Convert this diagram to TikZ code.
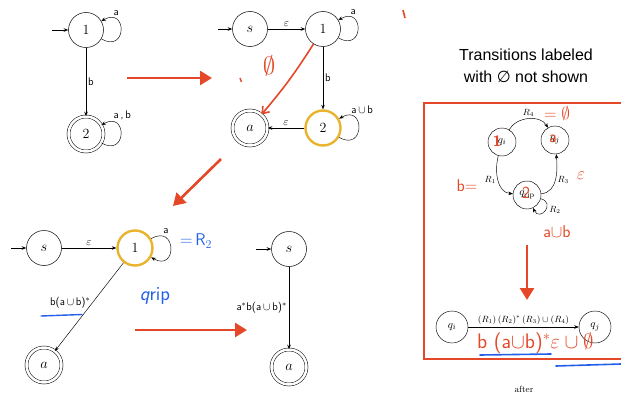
\documentclass[tikz,border=0pt]{standalone}
\usepackage{fontspec}
\usepackage{amssymb}
\usetikzlibrary{arrows.meta, positioning, calc}
\newfontfamily\titlefont{Liberation Sans}
\newfontfamily\symfont{DejaVu Sans}
\definecolor{markred}{RGB}{228, 72, 40}
\definecolor{ringyellow}{RGB}{232, 180, 45}
\definecolor{penblue}{RGB}{35, 95, 235}

\tikzset{
  state/.style={circle, draw, line width=0.5pt, minimum size=35pt, inner sep=0pt, font=\fontsize{14}{16}\selectfont},
  accept/.style={state, double, double distance=2.5pt},
  ripstate/.style={state, draw=ringyellow, line width=2.4pt},
  smallstate/.style={circle, draw, line width=0.45pt, minimum size=28pt, inner sep=0pt, font=\fontsize{11}{12}\selectfont},
  edge/.style={-{Stealth[length=4.5pt, width=3.5pt]}, line width=0.45pt},
  lab/.style={font=\fontsize{11}{12}\sffamily, inner sep=2pt},
  rlab/.style={font=\fontsize{9}{10}\selectfont, inner sep=2pt},
  elab/.style={font=\fontsize{11}{12}\selectfont, inner sep=2pt},
  bigarrow/.style={markred, line width=2.6pt, -{Triangle[length=12pt, width=14pt]}},
  redline/.style={markred, line width=1.6pt, -{Straight Barb[length=6pt, width=9pt]}},
  redpen/.style={markred, font=\fontsize{17}{19}\sffamily, inner sep=0pt},
  bluepen/.style={penblue, font=\fontsize{17}{19}\sffamily, inner sep=0pt},
}

\begin{document}
\begin{tikzpicture}[x=1pt, y=1pt, font=\small]
  \useasboundingbox (0,0) rectangle (621,-396);

  \node[state] (aone) at (86,-30) {1};
  \node[accept] (atwo) at (86,-134) {2};
  \coordinate (ainit) at (52,-30);
  \draw[edge] (ainit) -- (aone);
  \draw[edge] (aone) -- node[lab, right] {b} (atwo);
  \draw[edge] (aone) to[loop, out=-30, in=30, min distance=30pt] node[lab, pos=0.85, above right=0pt] {a} (aone);
  \draw[edge] (atwo) to[loop, out=-30, in=30, min distance=30pt] node[lab, pos=0.85, above right=0pt] {a\,,\,b} (atwo);

  \coordinate (rAstart) at (127,-78);
  \coordinate (rAend) at (212,-78);
  \draw[bigarrow] (rAstart) -- (rAend);

  \node[state] (bs) at (250,-29) {$s$};
  \node[state] (bone) at (323,-29) {1};
  \node[ripstate] (btwo) at (323,-128) {2};
  \node[accept] (bacc) at (250,-128) {$a$};
  \coordinate (binit) at (218,-29);
  \draw[edge] (binit) -- (bs);
  \draw[edge] (bs) -- node[elab, above] {$\varepsilon$} (bone);
  \draw[edge] (bone) -- node[lab, right] {b} (btwo);
  \draw[edge] (btwo) -- node[elab, above] {$\varepsilon$} (bacc);
  \draw[edge] (bone) to[loop, out=-30, in=30, min distance=30pt] node[lab, pos=0.85, above right=0pt] {a} (bone);
  \draw[edge] (btwo) to[loop, out=-30, in=30, min distance=30pt] node[lab, pos=0.85, above right=0pt] {a\,$\cup$\,b} (btwo);
  \draw[redline] (bone) to[bend left=4] (bacc);
  \node[markred, font=\fontsize{24}{24}\selectfont] (bnull) at (269,-66) {$\emptyset$};
  \draw[markred, line width=1.4pt] (240,-78) -- (241.5,-82);
  \draw[markred, line width=1.6pt] (403,-10) -- (405,-18);

  \coordinate (rBstart) at (221,-159);
  \coordinate (rBend) at (173,-206);
  \draw[bigarrow] (rBstart) -- (rBend);

  \node[state] (cs) at (44,-248) {$s$};
  \node[ripstate] (cone) at (135,-248) {1};
  \node[accept] (cacc) at (44,-365) {$a$};
  \coordinate (cinit) at (11,-248);
  \draw[edge] (cinit) -- (cs);
  \draw[edge] (cs) -- node[elab, above] {$\varepsilon$} (cone);
  \draw[edge] (cone) to[loop, out=30, in=-30, min distance=30pt] node[lab, pos=0.15, above right=0pt] {a} (cone);
  \draw[edge] (cone) -- node[lab, left, pos=0.45] {b(a\,$\cup$\,b)$^*$} (cacc);
  \node[bluepen] (crtwo) at (196,-241) {$=$\,R$_2$};
  \node[bluepen, font=\fontsize{20}{20}\sffamily] (crip) at (155,-296) {\itshape q\upshape rip};
  \draw[penblue, line width=1.4pt, line cap=round] (41,-316) -- (82,-314.5);

  \coordinate (rCstart) at (135,-330);
  \coordinate (rCend) at (247,-330);
  \draw[bigarrow] (rCstart) -- (rCend);

  \node[state] (ds) at (289,-249) {$s$};
  \node[accept] (dacc) at (289,-367) {$a$};
  \coordinate (dinit) at (256,-249);
  \draw[edge] (dinit) -- (ds);
  \draw[edge] (ds) -- node[lab, left] {a$^*$b(a\,$\cup$\,b)$^*$} (dacc);

  \node[font=\fontsize{16}{22}\titlefont, align=center] (title) at (526,-66) {Transitions labeled\\with {\symfont ∅} not shown};
  \draw[markred, line width=2.4pt] (622,-103) -- (424,-103) -- (424,-359) -- (622,-359);

  \node[smallstate] (qi) at (502,-142) {$q_i$};
  \node[smallstate] (qj) at (555,-140) {$q_j$};
  \node[smallstate] (qrip) at (527,-195) {$q_{\mathrm{rip}}$};
  \draw[edge] (qi) to[out=60, in=120] node[rlab, above] {$R_4$} (qj);
  \draw[edge] (qi) to[out=-105, in=175] node[rlab, left] {$R_1$} (qrip);
  \draw[edge] (qrip) to[out=5, in=-85] node[rlab, right] {$R_3$} (qj);
  \draw[edge] (qrip) to[loop, out=-15, in=-65, min distance=16pt] node[rlab, right=2pt] {$R_2$} (qrip);
  \node[redpen, font=\fontsize{15}{15}\bfseries\sffamily] (hone) at (497,-141) {1};
  \node[redpen] (haa) at (553,-139) {a};
  \node[redpen] (htwo) at (526,-193) {2};
  \node[redpen] (hnull) at (557,-113) {$=\emptyset$};
  \node[redpen] (heps) at (581,-176) {$\varepsilon$};
  \node[redpen] (hb) at (467,-186) {b$=$};
  \node[redpen] (haub) at (557,-232) {a$\cup$b};

  \coordinate (rDstart) at (527,-245);
  \coordinate (rDend) at (527,-300);
  \draw[bigarrow] (rDstart) -- (rDend);

  \node[smallstate, minimum size=32pt] (fi) at (452,-327) {$q_i$};
  \node[smallstate, minimum size=32pt] (fj) at (595,-327) {$q_j$};
  \draw[edge] (fi) -- node[rlab, above] {$(R_1)\,(R_2)^*\,(R_3)\cup(R_4)$} (fj);
  \node[redpen, anchor=west, font=\fontsize{21}{21}\sffamily] (hres) at (477,-343) {b (a$\cup$b)$^*\varepsilon\cup\emptyset$};
  \draw[penblue, line width=1.6pt, line cap=round] (480,-355) -- (551,-354);
  \draw[penblue, line width=1.6pt, line cap=round] (556,-366) -- (621,-364);

  \node[font=\fontsize{9}{10}\selectfont] (after) at (524,-389) {after};
\end{tikzpicture}
\end{document}
